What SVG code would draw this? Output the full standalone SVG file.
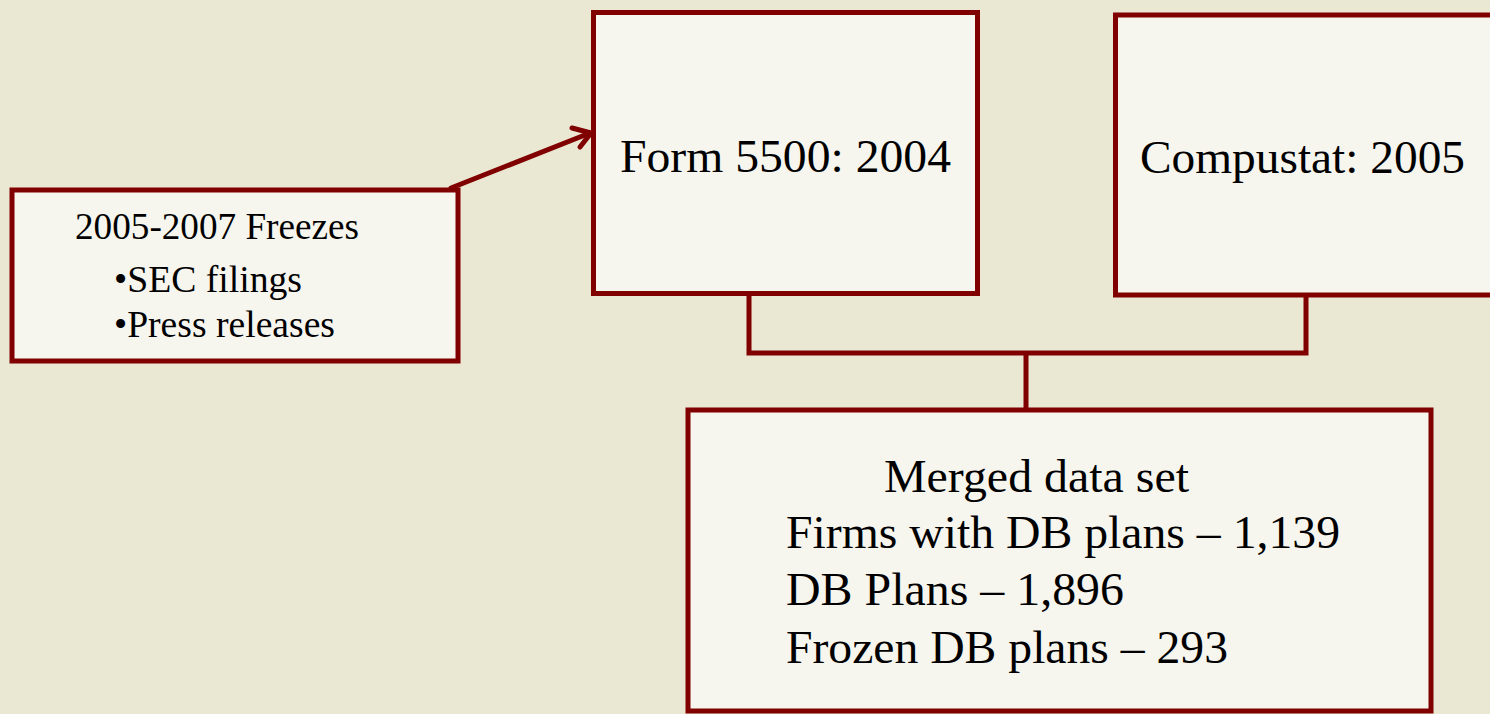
<svg xmlns="http://www.w3.org/2000/svg" width="1490" height="714" viewBox="0 0 1490 714">
<style>
.box{fill:#F6F5EE;stroke:#800000;stroke-width:5}
.conn{fill:none;stroke:#800000;stroke-width:5}
text{font-family:"Liberation Serif","Times New Roman",serif;fill:#000}
</style>
<rect width="1490" height="714" fill="#EAE7D3"/>
<g id="freezes">
<rect class="box" x="12" y="190" width="446" height="171"/>
<text x="75" y="239" font-size="37" textLength="284" lengthAdjust="spacingAndGlyphs">2005-2007 Freezes</text>
<text x="114" y="292" font-size="37" textLength="188" lengthAdjust="spacingAndGlyphs">•SEC filings</text>
<text x="114" y="337" font-size="37" textLength="221" lengthAdjust="spacingAndGlyphs">•Press releases</text>
</g>
<g id="form5500">
<rect class="box" x="593.5" y="12.5" width="384" height="281"/>
<text x="620" y="172" font-size="47" textLength="331" lengthAdjust="spacingAndGlyphs">Form 5500: 2004</text>
</g>
<g id="compustat">
<rect class="box" x="1115.5" y="15" width="400" height="280"/>
<text x="1140" y="173" font-size="47" textLength="325" lengthAdjust="spacingAndGlyphs">Compustat: 2005</text>
</g>
<g id="merged">
<rect class="box" x="688" y="410" width="743" height="301"/>
<text x="884" y="492" font-size="46" textLength="305" lengthAdjust="spacingAndGlyphs">Merged data set</text>
<text x="786" y="548" font-size="46" textLength="554" lengthAdjust="spacingAndGlyphs">Firms with DB plans – 1,139</text>
<text x="786" y="605" font-size="46" textLength="338" lengthAdjust="spacingAndGlyphs">DB Plans – 1,896</text>
<text x="786" y="663" font-size="46" textLength="442" lengthAdjust="spacingAndGlyphs">Frozen DB plans – 293</text>
</g>
<g id="connectors">
<path class="conn" d="M749,295 V353 H1306 V295"/>
<path class="conn" d="M1026,353 V410"/>
<path class="conn" d="M451,188 L590,133" stroke-linecap="round"/>
<path class="conn" d="M572,128 L591,133 L580,147" stroke-linecap="round" stroke-linejoin="round"/>
</g>
</svg>
